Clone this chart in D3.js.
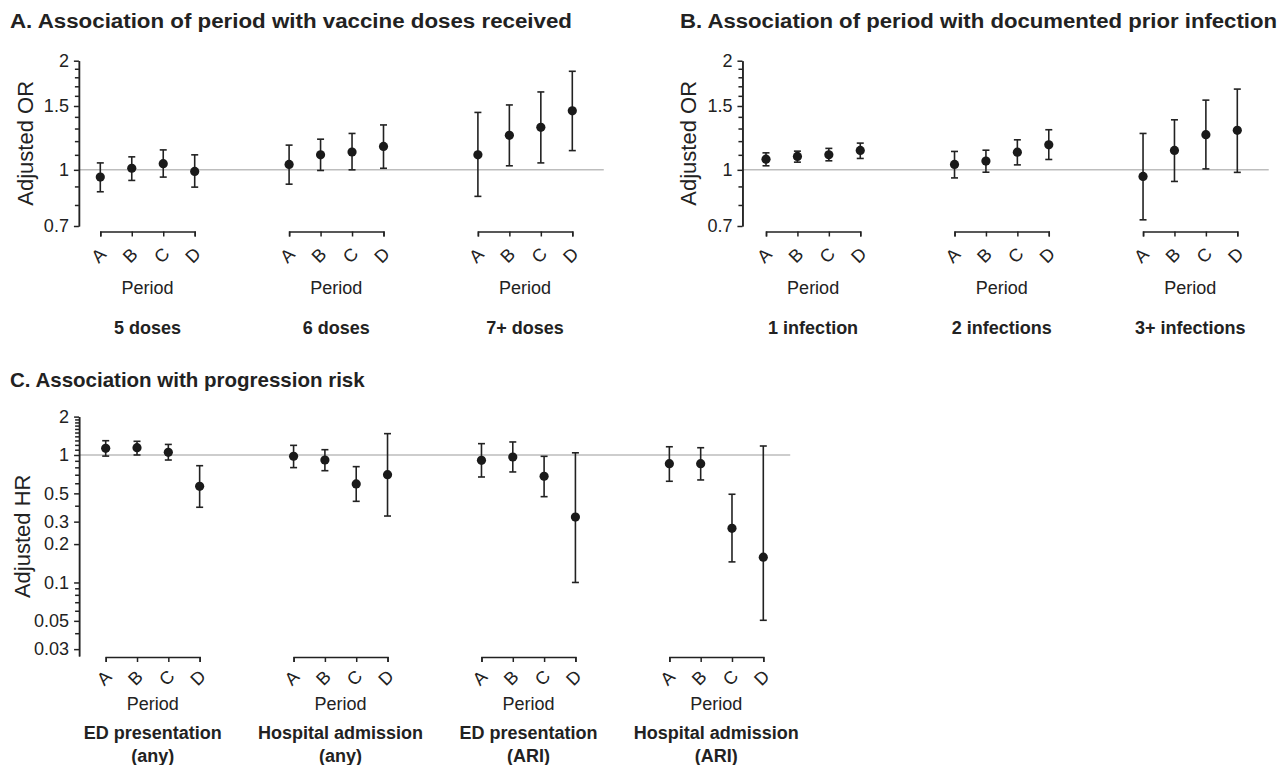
<!DOCTYPE html>
<html>
<head>
<meta charset="utf-8">
<script src="https://cdn.jsdelivr.net/npm/d3@7"></script>
<style>
  body { margin: 0; background: #fff; }
  svg { display: block; font-family: "Liberation Sans", Arial, sans-serif; }
  .axis path, .axis line { stroke: #222; stroke-width: 1.5; }
  .axis text { fill: #222; font-size: 18px; }
  .ref { stroke: #bdbdbd; stroke-width: 1.5; }
  .bar { stroke: #222; stroke-width: 1.6; }
  .dot { fill: #1a1a1a; }
  .lbl { fill: #222; font-size: 18px; }
  .grp { fill: #222; font-size: 18px; font-weight: bold; }
  .ttl { fill: #222; font-weight: bold; }
</style>
</head>
<body>
<svg id="chart" width="1282" height="765"></svg>
<script>
const periods = ["A", "B", "C", "D"];

// panel A: vaccine doses
const doseGroups = [["5 doses"], ["6 doses"], ["7+ doses"]];
const doseEst = [[0.955, 1.01, 1.04, 0.99], [1.035, 1.10, 1.12, 1.16], [1.10, 1.245, 1.31, 1.455]];
const doseLow = [[0.87, 0.935, 0.955, 0.896], [0.913, 0.996, 1.0, 1.01], [0.845, 1.026, 1.045, 1.13]];
const doseHigh = [[1.045, 1.086, 1.135, 1.10], [1.17, 1.215, 1.26, 1.33], [1.44, 1.51, 1.64, 1.87]];

// panel B: prior infections
const infGroups = [["1 infection"], ["2 infections"], ["3+ infections"]];
const infEst = [[1.07, 1.089, 1.10, 1.131], [1.035, 1.057, 1.119, 1.172], [0.959, 1.131, 1.25, 1.285]];
const infLow = [[1.026, 1.05, 1.059, 1.075], [0.95, 0.985, 1.032, 1.068], [0.728, 0.929, 1.006, 0.984]];
const infHigh = [[1.114, 1.126, 1.146, 1.185], [1.124, 1.133, 1.21, 1.29], [1.26, 1.374, 1.557, 1.67]];

// panel C: progression risk
const progGroups = [["ED presentation", "(any)"], ["Hospital admission", "(any)"], ["ED presentation", "(ARI)"], ["Hospital admission", "(ARI)"]];
const progEst = [[1.128, 1.14, 1.05, 0.568], [0.977, 0.913, 0.593, 0.701], [0.908, 0.964, 0.681, 0.326], [0.855, 0.855, 0.266, 0.158]];
const progLow = [[0.98, 1.0, 0.913, 0.389], [0.796, 0.753, 0.433, 0.332], [0.672, 0.736, 0.471, 0.1], [0.622, 0.637, 0.145, 0.0505]];
const progHigh = [[1.294, 1.28, 1.21, 0.824], [1.19, 1.10, 0.81, 1.47], [1.227, 1.265, 0.976, 1.04], [1.16, 1.14, 0.492, 1.176]];

const orTicks = [0.7, 1, 1.5, 2];
const orMinor = [0.8, 0.9, 1.1, 1.2, 1.3, 1.4, 1.6, 1.7, 1.8, 1.9];
const hrTicks = [0.03, 0.05, 0.1, 0.2, 0.3, 0.5, 1, 2];
const hrMinor = [0.04, 0.06, 0.07, 0.08, 0.09, 0.4, 0.6, 0.7, 0.8, 0.9, 1.1, 1.2, 1.3, 1.4, 1.5, 1.6, 1.7, 1.8, 1.9];

const svg = d3.select("#chart");

function title(text, x, y, size, len) {
  const t = svg.append("text")
    .attr("class", "ttl")
    .attr("x", x).attr("y", y)
    .style("font-size", size + "px")
    .text(text);
  if (len) t.attr("textLength", len).attr("lengthAdjust", "spacingAndGlyphs");
}

function panel(cfg) {
  const g = svg.append("g");
  const nGroups = cfg.groups.length;
  const last = (nGroups - 1) * 6 + 3;

  const x = d3.scaleLinear().domain([0, last]).range(cfg.xRange);
  const y = d3.scaleLog().domain(cfg.yDomain).range(cfg.yRange);
  const axisX = x(cfg.axisAt);

  // reference line at 1
  g.append("line")
    .attr("class", "ref")
    .attr("x1", axisX).attr("x2", x(last + cfg.refExtra))
    .attr("y1", y(1)).attr("y2", y(1));

  // y axis
  g.append("g")
    .attr("class", "axis")
    .attr("transform", "translate(" + axisX + ",0)")
    .call(d3.axisLeft(y).tickValues(cfg.minor).tickSize(4).tickSizeOuter(0).tickFormat(""));
  g.append("g")
    .attr("class", "axis")
    .attr("transform", "translate(" + axisX + ",0)")
    .call(d3.axisLeft(y).tickValues(cfg.ticks).tickSize(5).tickSizeOuter(0).tickPadding(5).tickFormat(d => String(d)));

  g.append("text")
    .attr("class", "lbl")
    .attr("transform", "translate(" + cfg.yTitleX + "," + (y(cfg.yDomain[0]) + y(cfg.yDomain[1])) / 2 + ") rotate(-90)")
    .attr("text-anchor", "middle")
    .attr("dominant-baseline", "central")
    .style("font-size", "22px")
    .text(cfg.yTitle);

  cfg.groups.forEach((name, gi) => {
    const base = gi * 6;
    const px = d3.scalePoint().domain(periods).range([x(base), x(base + 3)]);
    const cx = (x(base) + x(base + 3)) / 2;

    const ax = g.append("g")
      .attr("class", "axis")
      .attr("transform", "translate(0," + cfg.bracketY + ")")
      .call(d3.axisBottom(px).tickSize(5).tickSizeOuter(5));
    ax.selectAll("text")
      .attr("y", 0).attr("dy", null)
      .attr("dominant-baseline", "central")
      .attr("transform", "translate(-2," + cfg.letterOff + ") rotate(-45)")
      .style("font-size", "18px");

    g.append("text")
      .attr("class", "lbl")
      .attr("x", cx).attr("y", cfg.periodY)
      .attr("text-anchor", "middle")
      .text("Period");

    name.forEach((line, li) => {
      g.append("text")
        .attr("class", "grp")
        .attr("x", cx).attr("y", cfg.groupY + li * 23)
        .attr("text-anchor", "middle")
        .text(line);
    });

    const rows = periods.map((p, pi) => ({
      p: p, est: cfg.est[gi][pi], lo: cfg.low[gi][pi], hi: cfg.high[gi][pi]
    }));

    const bars = g.append("g").selectAll("g")
      .data(rows)
      .enter()
      .append("g")
      .attr("transform", d => "translate(" + px(d.p) + ",0)");

    bars.append("line").attr("class", "bar")
      .attr("y1", d => y(d.lo)).attr("y2", d => y(d.hi));
    bars.append("line").attr("class", "bar")
      .attr("x1", -3.5).attr("x2", 3.5)
      .attr("y1", d => y(d.lo)).attr("y2", d => y(d.lo));
    bars.append("line").attr("class", "bar")
      .attr("x1", -3.5).attr("x2", 3.5)
      .attr("y1", d => y(d.hi)).attr("y2", d => y(d.hi));
    bars.append("circle").attr("class", "dot")
      .attr("r", 4.6)
      .attr("cy", d => y(d.est));
  });
}

title("A. Association of period with vaccine doses received", 10, 28, 20, 562);
title("B. Association of period with documented prior infection", 680, 28, 20, 597);
title("C. Association with progression risk", 10, 387, 20.5);

panel({
  groups: doseGroups, est: doseEst, low: doseLow, high: doseHigh,
  xRange: [100.3, 572.3], axisAt: -0.68, refExtra: 1.0,
  yDomain: [0.7, 2], yRange: [226, 60.7], ticks: orTicks, minor: orMinor,
  yTitle: "Adjusted OR", yTitleX: 25,
  bracketY: 231.5, letterOff: 24, periodY: 294, groupY: 334
});

panel({
  groups: infGroups, est: infEst, low: infLow, high: infHigh,
  xRange: [766, 1237.3], axisAt: -0.75, refExtra: 1.0,
  yDomain: [0.7, 2], yRange: [226, 60.7], ticks: orTicks, minor: orMinor,
  yTitle: "Adjusted OR", yTitleX: 688,
  bracketY: 231.5, letterOff: 24, periodY: 294, groupY: 334
});

panel({
  groups: progGroups, est: progEst, low: progLow, high: progHigh,
  xRange: [105.7, 763.3], axisAt: -0.85, refExtra: 0.86,
  yDomain: [0.0265, 2], yRange: [656, 416.6], ticks: hrTicks, minor: hrMinor,
  yTitle: "Adjusted HR", yTitleX: 22,
  bracketY: 657, letterOff: 21, periodY: 710, groupY: 739
});
</script>
</body>
</html>
